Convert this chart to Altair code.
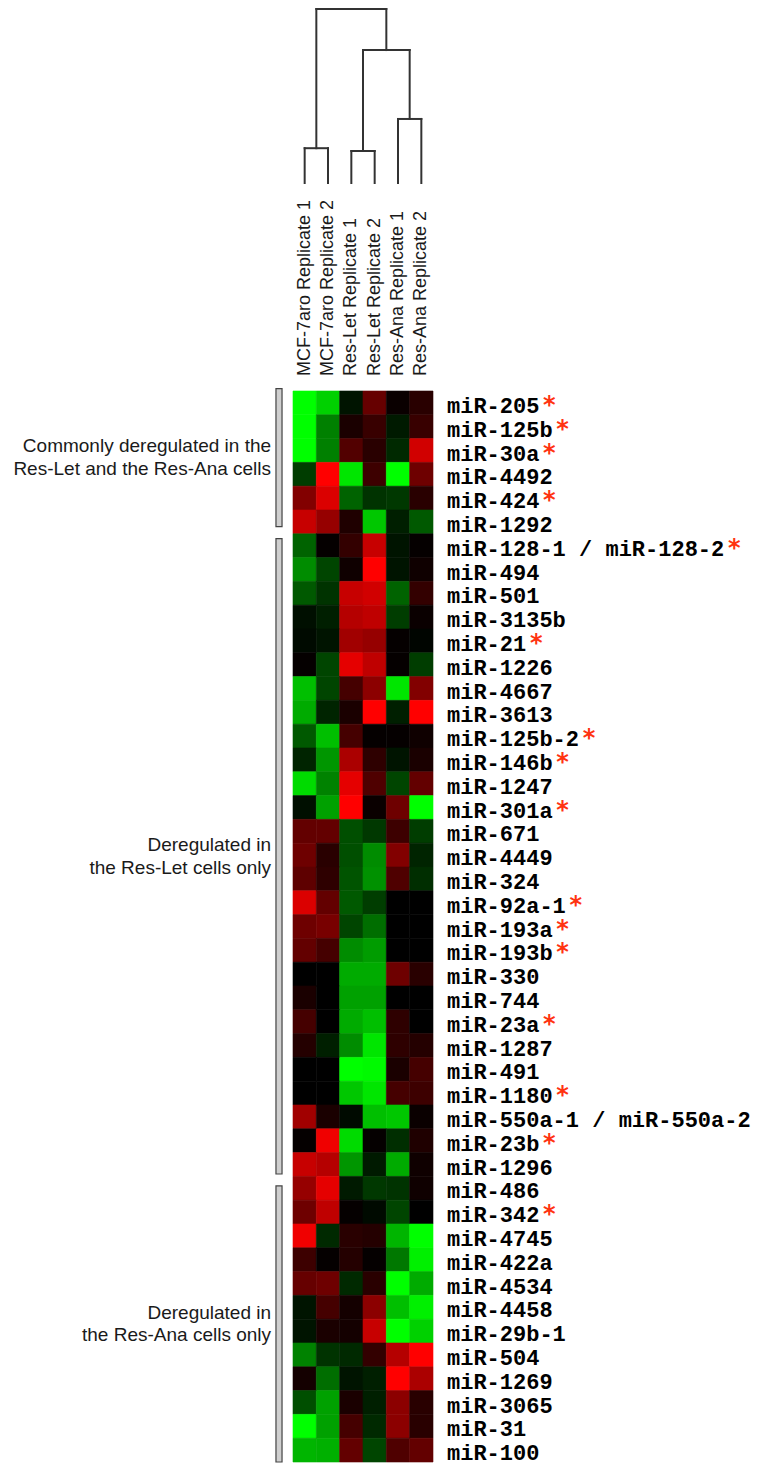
import altair as alt
import pandas as pd

# ---------------- data ----------------
samples = ["MCF-7aro Replicate 1", "MCF-7aro Replicate 2",
           "Res-Let Replicate 1", "Res-Let Replicate 2",
           "Res-Ana Replicate 1", "Res-Ana Replicate 2"]

mirnas = ["miR-205", "miR-125b", "miR-30a", "miR-4492", "miR-424", "miR-1292",
          "miR-128-1 / miR-128-2", "miR-494", "miR-501", "miR-3135b", "miR-21",
          "miR-1226", "miR-4667", "miR-3613", "miR-125b-2", "miR-146b", "miR-1247",
          "miR-301a", "miR-671", "miR-4449", "miR-324", "miR-92a-1", "miR-193a",
          "miR-193b", "miR-330", "miR-744", "miR-23a", "miR-1287", "miR-491",
          "miR-1180", "miR-550a-1 / miR-550a-2", "miR-23b", "miR-1296",
          "miR-486", "miR-342", "miR-4745", "miR-422a", "miR-4534", "miR-4458",
          "miR-29b-1", "miR-504", "miR-1269", "miR-3065", "miR-31", "miR-100"]

starred = [1, 1, 1, 0, 1, 0,
           1, 0, 0, 0, 1, 0, 0, 0, 1, 1, 0, 1,
           0, 0, 0, 1, 1, 1, 0, 0, 1, 0, 0, 1, 0, 1, 0,
           0, 1, 0, 0, 0, 0, 0, 0, 0, 0, 0, 0]

# expression (negative = green, positive = red)
values = [
    [-1.00, -0.82, -0.08,  0.40,  0.04,  0.16],
    [-1.00, -0.50,  0.10,  0.22, -0.10,  0.22],
    [-1.00, -0.50,  0.32,  0.16, -0.16,  0.82],
    [-0.24,  1.00, -0.90,  0.24, -1.00,  0.43],
    [ 0.51,  0.86, -0.39, -0.20, -0.22,  0.16],
    [ 0.78,  0.59,  0.12, -0.78, -0.12, -0.35],
    [-0.39,  0.02,  0.20,  0.78, -0.08,  0.02],
    [-0.55, -0.27,  0.06,  1.00, -0.08,  0.06],
    [-0.35, -0.20,  0.78,  0.82, -0.39,  0.20],
    [-0.06, -0.12,  0.71,  0.75, -0.24,  0.04],
    [-0.04, -0.08,  0.63,  0.59,  0.02, -0.02],
    [ 0.02, -0.27,  0.90,  0.75,  0.02, -0.24],
    [-0.75, -0.27,  0.27,  0.55, -0.90,  0.51],
    [-0.67, -0.14,  0.10,  1.00, -0.12,  1.00],
    [-0.35, -0.75,  0.27,  0.02,  0.02,  0.06],
    [-0.14, -0.59,  0.67,  0.18, -0.08,  0.10],
    [-0.86, -0.51,  0.90,  0.31, -0.27,  0.39],
    [-0.06, -0.63,  1.00,  0.04,  0.43, -1.00],
    [ 0.39,  0.39, -0.31, -0.22,  0.24, -0.24],
    [ 0.43,  0.16, -0.31, -0.55,  0.51, -0.14],
    [ 0.37,  0.18, -0.33, -0.57,  0.31, -0.18],
    [ 0.86,  0.39, -0.35, -0.24,  0.00,  0.00],
    [ 0.43,  0.47, -0.27, -0.43,  0.00,  0.00],
    [ 0.39,  0.27, -0.55, -0.61,  0.00,  0.00],
    [ 0.00,  0.00, -0.67, -0.67,  0.43,  0.16],
    [ 0.10,  0.00, -0.63, -0.63,  0.00,  0.00],
    [ 0.27,  0.00, -0.67, -0.75,  0.18,  0.00],
    [ 0.14, -0.12, -0.55, -0.90,  0.18,  0.14],
    [ 0.00,  0.00, -1.00, -0.98,  0.10,  0.27],
    [ 0.00,  0.00, -0.78, -0.90,  0.27,  0.24],
    [ 0.63,  0.10, -0.04, -0.75, -0.78,  0.04],
    [ 0.02,  0.94, -0.86,  0.02, -0.18,  0.12],
    [ 0.78,  0.71, -0.59, -0.10, -0.67,  0.06],
    [ 0.59,  0.90, -0.10, -0.22, -0.20,  0.06],
    [ 0.43,  0.75,  0.02, -0.04, -0.27,  0.00],
    [ 0.94, -0.16,  0.16,  0.14, -0.71, -1.00],
    [ 0.24,  0.02,  0.14,  0.02, -0.47, -0.94],
    [ 0.40,  0.43, -0.16,  0.16, -1.00, -0.67],
    [-0.08,  0.27,  0.08,  0.55, -0.75, -0.94],
    [-0.08,  0.10,  0.08,  0.78, -1.00, -0.82],
    [-0.51, -0.20, -0.16,  0.20,  0.71,  1.00],
    [ 0.08, -0.43, -0.08, -0.12,  1.00,  0.67],
    [-0.31, -0.63,  0.10, -0.12,  0.55,  0.16],
    [-1.00, -0.63,  0.27, -0.16,  0.55,  0.16],
    [-0.71, -0.69,  0.39, -0.27,  0.31,  0.39],
]

group_lines = [["Commonly deregulated in the", "Res-Let and the Res-Ana cells"],
               ["Deregulated in", "the Res-Let cells only"],
               ["Deregulated in", "the Res-Ana cells only"]]
bracket_top = [-0.1, 6.2, 33.4]      # row units
bracket_bottom = [5.7, 32.9, 45.0]

# dendrogram merges: left x, right x, left child height, right child height, merge height
dendro = [
    (0.5, 1.5, 0.00, 0.00, 1.00),
    (2.5, 3.5, 0.00, 0.00, 0.92),
    (4.5, 5.5, 0.00, 0.00, 1.84),
    (3.0, 5.0, 0.92, 1.84, 3.82),
    (1.0, 4.0, 1.00, 3.82, 5.00),
]

# ---------------- layout ----------------
W, H = 755, 1455
COL_W = 140 / 6
ROW_H = 23.8
HEAT_LEFT = 285
HEAT_TOP = 383
x0 = -HEAT_LEFT / COL_W
x1 = x0 + W / COL_W
y0 = -HEAT_TOP / ROW_H
y1 = y0 + H / ROW_H
xs = alt.Scale(domain=[x0, x1], nice=False, zero=False)
ys = alt.Scale(domain=[y0, y1], nice=False, zero=False, reverse=True)

LABEL_FS = 22
CHAR_W = 0.6 * LABEL_FS
LABEL_X = 6.6
STAR_GAP = 10
LEAF_BASE = -208 / ROW_H
DIST_K = 34.8 / ROW_H
COLLABEL_Y = -0.63
BR_X1, BR_X2 = -0.73, -0.47
GROUP_X = -0.94

cs = alt.Scale(domain=[-1, 0, 1], range=["#00ff00", "#000000", "#ff0000"],
               interpolate="rgb", clamp=True)

heat_df = pd.DataFrame([
    {"x": j, "x2": j + 1, "y": i, "y2": i + 1, "v": values[i][j],
     "mirna": mirnas[i], "sample": samples[j]}
    for i in range(len(mirnas)) for j in range(len(samples))
])
label_df = pd.DataFrame({"name": mirnas,
                         "x": [LABEL_X] * len(mirnas),
                         "y": [i + 0.5 for i in range(len(mirnas))]})
star_df = pd.DataFrame([
    {"t": "*", "x": LABEL_X + (len(m) * CHAR_W + STAR_GAP) / COL_W, "y": i + 0.5}
    for i, (m, s) in enumerate(zip(mirnas, starred)) if s
])
col_df = pd.DataFrame({"t": samples, "x": [j + 0.5 for j in range(len(samples))],
                       "y": [COLLABEL_Y] * len(samples)})

segs = []
for xl, xr, hl, hr, h in dendro:
    yh = LEAF_BASE - h * DIST_K
    segs.append({"x": xl, "x2": xr, "y": yh, "y2": yh})
    segs.append({"x": xl, "x2": xl, "y": LEAF_BASE - hl * DIST_K, "y2": yh})
    segs.append({"x": xr, "x2": xr, "y": LEAF_BASE - hr * DIST_K, "y2": yh})
seg_df = pd.DataFrame(segs)

br_df = pd.DataFrame({"x": [BR_X1] * 3, "x2": [BR_X2] * 3,
                      "y": bracket_top, "y2": bracket_bottom})
grp = []
for lines, t, b in zip(group_lines, bracket_top, bracket_bottom):
    c = (t + b) / 2
    grp.append({"t": lines[0], "x": GROUP_X, "y": c - 0.48})
    grp.append({"t": lines[1], "x": GROUP_X, "y": c + 0.48})
grp_df = pd.DataFrame(grp)

X = lambda f: alt.X(f, type="quantitative", scale=xs, axis=None)
Y = lambda f: alt.Y(f, type="quantitative", scale=ys, axis=None)

heat = alt.Chart(heat_df).mark_rect(strokeWidth=0.6).encode(
    x=X("x"), x2="x2", y=Y("y"), y2="y2",
    color=alt.Color("v:Q", scale=cs, legend=None),
    stroke=alt.Stroke("v:Q", scale=cs, legend=None),
)

brackets = alt.Chart(br_df).mark_rect(fill="#cfcfcf", stroke="#444444",
                                      strokeWidth=1.2).encode(
    x=X("x"), x2="x2", y=Y("y"), y2="y2")

tree = alt.Chart(seg_df).mark_rule(color="#333333", strokeWidth=2,
                                   strokeCap="square").encode(
    x=X("x"), x2="x2", y=Y("y"), y2="y2")

labels = alt.Chart(label_df).mark_text(
    font="Liberation Mono", fontWeight="bold", fontSize=LABEL_FS,
    align="left", baseline="alphabetic", dy=10, color="#000000").encode(
    x=X("x"), y=Y("y"), text="name:N")

stars = alt.Chart(star_df).mark_text(
    font="DejaVu Sans", fontWeight="bold", fontSize=24,
    align="center", baseline="alphabetic", dy=10, color="#ff3311").encode(
    x=X("x"), y=Y("y"), text="t:N")

collabels = alt.Chart(col_df).mark_text(
    font="Liberation Sans", fontSize=18, angle=270, align="left",
    baseline="middle", color="#1a1a1a").encode(
    x=X("x"), y=Y("y"), text="t:N")

grouptext = alt.Chart(grp_df).mark_text(
    font="Liberation Sans", fontSize=19, align="right",
    baseline="middle", color="#1a1a1a").encode(
    x=X("x"), y=Y("y"), text="t:N")

chart = alt.layer(heat, brackets, tree, labels, stars, collabels, grouptext).properties(
    width=W, height=H, padding=0,
    autosize=alt.AutoSizeParams(type="none"),
).configure_view(stroke=None)

chart.save("out.html", embed_options={"renderer": "svg", "actions": False})
